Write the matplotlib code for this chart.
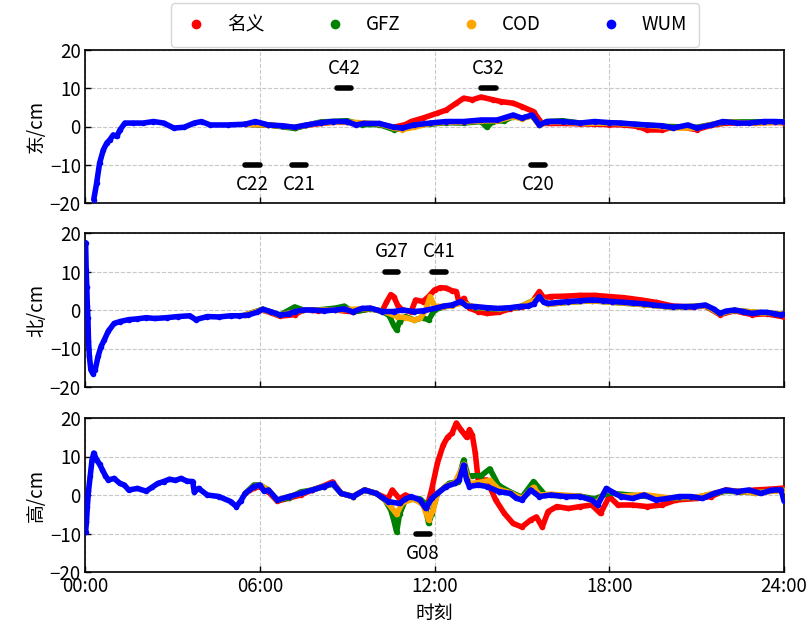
import matplotlib
matplotlib.use("Agg")
import matplotlib.pyplot as plt
from matplotlib.lines import Line2D

plt.rcParams['font.family'] = ['Noto Sans CJK SC', 'DejaVu Sans']
plt.rcParams['axes.unicode_minus'] = True

series_names = ['名义', 'GFZ', 'COD', 'WUM']
series_colors = ['#ff0000', '#008000', '#ffa500', '#0000ff']
xtick_labels = ['00:00', '06:00', '12:00', '18:00', '24:00']
panel_labels = ['东/cm', '北/cm', '高/cm']

# ---------------- East ----------------
e_wum_t = [0.3, 0.4, 0.5, 0.63, 0.75, 0.85, 0.97, 1.09, 1.2, 1.37, 1.66, 2.0, 2.35, 2.7, 3.05, 3.4, 3.75, 4.0, 4.3, 4.9,
           5.5, 5.85, 6.3, 6.76, 7.2, 7.6, 8.1, 8.5, 9.0, 9.3, 9.57, 10.1, 10.6, 10.9, 11.3, 11.85, 12.4, 13.0, 13.6, 14.15,
           14.7, 15.0, 15.35, 15.6, 15.86, 16.4, 17.0, 17.5, 18.0, 18.4, 18.9, 19.3, 19.8, 20.2, 20.7, 21.0, 21.5, 21.9, 22.4,
           22.8, 23.3, 23.7, 24.0]
e_wum_v = [-19.1, -14.8, -9.6, -6.1, -4.3, -3.5, -2.2, -2.6, -0.9, 0.9, 0.9, 0.9, 1.3, 0.9, -0.4, -0.2, 0.9, 1.3, 0.4, 0.4,
           0.6, 1.3, 0.4, 0.2, -0.2, 0.4, 1.0, 1.3, 1.3, 0.4, 0.8, 0.8, -0.2, -0.4, 0.4, 0.9, 1.3, 1.3, 1.7, 1.7,
           3.0, 2.2, 3.0, 0.4, 1.3, 1.3, 0.9, 1.3, 1.0, 0.9, 0.6, 0.4, 0.2, -0.4, 0.4, -0.4, 0.4, 1.3, 0.9,
           0.9, 1.3, 1.3, 1.2]
e_nom_t = [5.5, 6.3, 7.2, 7.6, 8.1, 8.5, 9.0, 9.5, 10.1, 10.6, 11.0, 11.2, 11.6, 12.1, 12.4, 12.75, 13.0, 13.3, 13.6, 14.0,
           14.3, 14.7, 15.0, 15.4, 15.6, 15.7, 16.0, 16.5, 17.0, 17.5, 18.0, 18.5, 19.0, 19.3, 19.8, 20.2, 20.5, 21.0, 21.5,
           22.0, 22.5, 23.0, 23.5, 24.0]
e_nom_v = [0.6, 0.4, -0.3, 0.3, 0.8, 1.1, 1.1, 0.6, 0.6, -0.2, 0.5, 1.3, 2.2, 3.5, 4.3, 6.1, 7.4, 7.0, 7.7, 7.0,
           6.5, 6.1, 5.2, 3.9, 1.7, 0.8, 0.8, 0.8, 0.7, 0.6, 0.5, 0.4, 0.0, -0.9, -0.9, -0.2, -0.2, -0.8, 0.3,
           0.9, 0.9, 0.9, 1.1, 1.0]
e_gfz_t = [5.5, 6.3, 7.2, 7.6, 8.1, 9.0, 9.5, 10.1, 10.6, 10.9, 11.3, 11.85, 12.4, 13.0, 13.6, 13.8, 14.0, 14.4, 14.7, 15.0,
           15.35, 15.6, 15.86, 16.4, 17.0, 18.0, 19.0, 20.0, 21.0, 22.0, 23.0, 24.0]
e_gfz_v = [0.6, 0.4, -0.5, 0.3, 1.2, 1.5, 0.5, 0.5, -0.8, -0.6, 0.4, 0.6, 1.0, 0.9, 1.3, -0.2, 1.3, 1.5, 2.6, 2.2,
           2.8, 0.4, 1.3, 1.5, 0.9, 1.0, 0.5, 0.0, -0.2, 1.2, 1.2, 1.2]
e_cod_t = [5.5, 6.3, 7.2, 8.1, 9.0, 10.1, 10.6, 10.9, 11.3, 11.85, 12.4, 13.0, 13.6, 14.15, 14.7, 15.0, 15.35, 15.6, 15.86,
           16.4, 17.0, 18.0, 19.3, 20.2, 21.0, 21.9, 22.8, 24.0]
e_cod_v = [0.6, 0.4, -0.2, 1.0, 1.2, 0.7, -0.4, -0.8, -0.2, 0.8, 1.1, 1.1, 1.5, 1.5, 2.6, 2.0, 2.8, 0.4, 1.2,
           1.2, 0.8, 0.9, 0.3, -0.4, -0.4, 1.2, 0.9, 1.1]

# ---------------- North ----------------
n_wum_t = [0.02, 0.04, 0.06, 0.08, 0.1, 0.12, 0.15, 0.2, 0.27, 0.35, 0.45, 0.55, 0.66, 0.8, 1.0, 1.2, 1.5, 1.8, 2.1, 2.4,
           2.8, 3.2, 3.6, 3.8, 4.2, 4.6, 5.0, 5.3, 5.6, 5.9, 6.1, 6.4, 6.7, 7.0, 7.2, 7.5, 7.8, 8.2, 8.6, 8.9,
           9.2, 9.5, 9.8, 10.2, 10.6, 10.9, 11.3, 11.6, 12.0, 12.3, 12.6, 12.9, 13.1, 13.4, 13.8, 14.2, 14.6, 14.9, 15.2, 15.4,
           15.6, 15.75, 15.9, 16.3, 16.6, 17.0, 17.4, 17.8, 18.1, 18.5, 18.8, 19.2, 19.5, 19.9, 20.2, 20.6, 20.9, 21.3, 21.6, 21.8,
           22.0, 22.3, 22.6, 22.9, 23.2, 23.4, 23.7, 23.9, 24.0]
n_wum_v = [17.5, 10.5, 6.0, 1.0, -2.0, -8.0, -12.0, -15.5, -16.5, -15.5, -12.0, -9.5, -7.8, -5.5, -3.5, -3.0, -2.5, -2.3, -2.0, -2.2,
           -2.0, -1.7, -1.5, -2.5, -1.7, -1.8, -1.5, -1.5, -1.3, -0.6, 0.2, -0.5, -1.3, -1.0, -0.4, 0.0, 0.0, -0.2, 0.0, 0.3,
           -0.5, 0.4, 0.5, -0.4, -0.4, 0.0, -0.4, -0.2, 0.4, 1.0, 1.3, 2.2, 1.0, 0.9, 0.6, 0.4, 0.6, 0.9, 1.0, 1.5,
           3.5, 2.0, 1.7, 2.0, 2.2, 2.4, 2.6, 2.4, 2.2, 2.0, 1.8, 1.6, 1.3, 1.0, 0.9, 0.9, 0.9, 1.3, 0.2, -0.9,
           -0.3, 0.0, -0.4, -0.9, -0.6, -0.6, -1.0, -1.3, -1.0]
n_nom_t = [5.5, 6.1, 6.7, 7.2, 7.5, 8.0, 8.6, 9.2, 9.8, 10.2, 10.35, 10.5, 10.6, 10.75, 10.9, 11.2, 11.35, 11.6, 11.8, 12.0,
           12.2, 12.4, 12.6, 12.75, 12.85, 13.0, 13.2, 13.5, 13.8, 14.2, 14.6, 15.0, 15.3, 15.6, 15.75, 16.0, 16.5, 17.0, 17.5,
           18.0, 18.5, 19.1, 19.6, 20.2, 20.8, 21.3, 21.8, 22.3, 22.9, 23.4, 24.0]
n_nom_v = [-1.3, 0.0, -1.6, -1.2, 0.0, -0.2, 0.0, -0.5, 0.3, -0.3, 2.0, 4.0, 3.5, 1.0, 0.0, -0.4, 2.6, 2.2, 3.5, 5.2,
           5.8, 5.7, 5.0, 4.8, 1.7, 3.0, 0.5, -0.4, -0.9, -0.6, 0.3, 0.8, 1.5, 4.8, 3.2, 3.5, 3.6, 3.8, 3.8,
           3.5, 3.2, 2.6, 2.0, 1.0, 0.8, 1.0, -1.2, -0.2, -1.2, -1.0, -1.8]
n_gfz_t = [5.5, 6.1, 6.7, 7.2, 7.5, 8.0, 8.6, 8.9, 9.2, 9.8, 10.2, 10.45, 10.6, 10.7, 10.8, 11.0, 11.3, 11.6, 11.8, 12.0,
           12.3, 12.6, 12.9, 13.4, 13.8, 14.2, 14.9, 15.6, 15.9, 16.6, 17.4, 18.1, 19.2, 20.2, 21.3, 21.8, 22.3, 23.2, 24.0]
n_gfz_v = [-1.3, 0.2, -1.3, 0.8, 0.0, 0.0, 0.5, 1.0, -0.5, 0.3, -0.3, -1.5, -4.0, -5.2, -3.0, -1.7, -2.6, -2.0, -2.6, 0.0,
           0.8, 1.2, 2.0, 0.6, 0.4, 0.2, 0.7, 3.2, 1.5, 2.0, 2.4, 2.0, 1.4, 0.7, 1.1, -0.9, -0.1, -0.7, -1.1]
n_cod_t = [5.5, 6.1, 6.7, 7.5, 8.6, 9.8, 10.2, 10.5, 10.7, 11.0, 11.3, 11.5, 11.7, 11.85, 12.0, 12.3, 12.6, 12.9, 13.4, 14.2,
           14.9, 15.6, 15.9, 16.6, 17.4, 18.1, 19.2, 20.2, 21.3, 21.8, 22.3, 23.2, 24.0]
n_cod_v = [-1.3, 0.1, -1.3, 0.0, 0.0, 0.4, -0.4, -1.0, -1.7, -2.0, -2.6, -2.2, 0.0, 3.5, 1.0, 0.9, 1.1, 1.9, 0.7, 0.3,
           0.7, 3.2, 1.5, 2.0, 2.4, 2.0, 1.4, 0.7, 1.1, -0.9, -0.1, -0.7, -1.1]

# ---------------- Up ----------------
u_wum_t = [0.02, 0.05, 0.08, 0.12, 0.18, 0.24, 0.3, 0.4, 0.5, 0.6, 0.7, 0.8, 1.0, 1.2, 1.35, 1.5, 1.8, 2.1, 2.3, 2.5,
           2.7, 2.9, 3.1, 3.3, 3.5, 3.7, 3.75, 3.9, 4.2, 4.6, 5.0, 5.2, 5.35, 5.5, 5.8, 6.0, 6.15, 6.3, 6.6, 7.0,
           7.4, 7.8, 8.2, 8.5, 8.8, 9.2, 9.6, 10.0, 10.4, 10.8, 11.0, 11.2, 11.5, 11.7, 11.9, 12.1, 12.4, 12.7, 12.85, 13.0,
           13.1, 13.2, 13.5, 13.8, 14.2, 14.6, 14.8, 15.0, 15.3, 15.6, 16.0, 16.5, 17.0, 17.4, 17.6, 17.9, 18.1, 18.4, 18.8, 19.2,
           19.6, 20.0, 20.4, 20.8, 21.2, 21.6, 22.0, 22.4, 22.8, 23.2, 23.6, 23.9, 24.0]
u_wum_v = [-9.5, -7.0, -3.0, 1.0, 5.0, 9.0, 10.9, 9.1, 8.0, 6.5, 5.0, 3.9, 4.3, 3.0, 2.6, 1.3, 1.7, 1.0, 2.0, 3.0,
           3.5, 4.1, 3.8, 4.3, 3.6, 3.5, 0.8, 1.7, 0.0, -0.4, -1.7, -3.0, -1.5, 0.4, 2.2, 2.6, 1.0, 1.3, -1.3, -0.4,
           0.4, 1.3, 2.2, 3.0, 0.4, -0.4, 1.3, 0.4, -1.7, -2.2, -1.0, -0.4, -1.3, -3.5, -0.9, 0.4, 2.2, 3.0, 4.0, 7.8,
           4.0, 2.2, 2.6, 2.2, 0.9, 0.4, -0.8, -1.3, 1.3, -0.4, 0.0, -0.4, -0.4, -1.3, -2.6, 1.7, 0.8, -0.4, -0.9, 0.0,
           -1.3, -0.9, -0.4, -0.4, -0.9, 0.4, 1.3, 0.9, 1.3, 0.4, 1.3, 1.3, -1.5]
u_nom_t = [5.5, 5.8, 6.0, 6.3, 6.6, 7.0, 7.4, 7.8, 8.2, 8.5, 8.8, 9.2, 9.6, 10.0, 10.4, 10.55, 10.8, 11.0, 11.3, 11.5,
           11.75, 11.9, 12.1, 12.3, 12.45, 12.6, 12.75, 12.9, 13.0, 13.1, 13.2, 13.3, 13.4, 13.5, 13.8, 14.1, 14.4, 14.7, 15.0,
           15.3, 15.5, 15.7, 15.9, 16.2, 16.6, 17.0, 17.4, 17.7, 18.0, 18.3, 18.8, 19.3, 19.8, 20.3, 21.0, 21.5, 22.0, 22.5,
           23.0, 23.5, 24.0]
u_nom_v = [0.4, 1.8, 2.2, 0.8, -1.6, -0.8, 0.0, 1.3, 2.4, 3.4, 0.4, -0.4, 1.3, 0.4, -1.0, 1.3, -1.0, 0.0, -1.0, -1.5,
           -3.0, 1.3, 8.3, 13.0, 15.0, 16.0, 18.7, 17.0, 16.0, 15.0, 17.0, 15.5, 10.9, 3.9, 3.9, -1.3, -4.8, -7.4, -8.3,
           -6.5, -5.7, -8.3, -4.3, -3.0, -3.5, -3.0, -2.6, -4.8, -0.4, -2.6, -2.6, -3.0, -2.6, -1.3, -0.9, -0.4, 1.3, 0.9,
           1.3, 1.5, 1.8]
u_gfz_t = [5.5, 5.8, 6.0, 6.3, 6.6, 7.0, 7.4, 7.8, 8.2, 8.5, 8.8, 9.2, 9.6, 10.0, 10.3, 10.5, 10.6, 10.7, 10.8, 11.0,
           11.3, 11.5, 11.65, 11.8, 11.9, 12.1, 12.5, 12.8, 13.0, 13.15, 13.3, 13.6, 13.9, 14.2, 14.6, 15.0, 15.4, 15.8, 16.3,
           17.0, 17.5, 18.0, 19.0, 20.0, 21.0, 22.0, 23.0, 24.0]
u_gfz_v = [0.4, 2.6, 2.6, 1.3, -1.3, -0.8, 0.8, 1.3, 2.2, 2.8, 0.4, -0.4, 1.3, 0.4, -1.3, -3.9, -6.5, -9.6, -5.0, -1.3,
           -1.0, -1.0, -2.0, -7.4, -5.0, 0.4, 3.0, 3.5, 9.1, 5.0, 5.0, 5.0, 6.8, 2.5, 0.8, -0.6, 3.5, 0.0, -0.2,
           -0.3, -1.0, 0.5, -0.2, -0.8, -0.6, 1.0, 0.6, 1.3]
u_cod_t = [5.5, 5.8, 6.0, 6.3, 6.6, 7.0, 7.4, 7.8, 8.2, 8.5, 8.8, 9.2, 9.6, 10.0, 10.3, 10.5, 10.7, 10.9, 11.3, 11.6,
           11.8, 11.95, 12.1, 12.4, 12.7, 13.0, 13.2, 13.5, 13.9, 14.2, 14.6, 15.0, 15.4, 15.6, 16.0, 17.0, 17.6, 17.9, 18.4,
           19.2, 20.0, 21.0, 22.0, 23.0, 24.0]
u_cod_v = [0.4, 2.2, 2.6, 1.3, -1.3, -0.4, 0.4, 1.3, 2.2, 3.0, 0.4, -0.4, 1.3, 0.4, -1.3, -3.0, -5.0, -2.0, -1.0, -2.5,
           -6.5, -4.0, 0.4, 2.4, 3.2, 8.0, 3.0, 3.2, 3.8, 1.5, 0.6, -0.9, 2.0, 0.0, 0.2, -0.3, -2.0, 1.5, -0.3,
           0.1, -0.7, -0.6, 1.2, 0.6, 1.2]

panels = [
    [(e_nom_t, e_nom_v), (e_gfz_t, e_gfz_v), (e_cod_t, e_cod_v), (e_wum_t, e_wum_v)],
    [(n_nom_t, n_nom_v), (n_gfz_t, n_gfz_v), (n_cod_t, n_cod_v), (n_wum_t, n_wum_v)],
    [(u_nom_t, u_nom_v), (u_gfz_t, u_gfz_v), (u_cod_t, u_cod_v), (u_wum_t, u_wum_v)],
]

# satellite annotations
sat_names = ['C42', 'C32', 'C22', 'C21', 'C20', 'G27', 'C41', 'G08']
sat_panel = [0, 0, 0, 0, 0, 1, 1, 2]
sat_start = [8.65, 13.6, 5.5, 7.1, 15.3, 10.3, 11.9, 11.35]
sat_end = [9.15, 14.1, 6.0, 7.6, 15.8, 10.75, 12.4, 11.85]
sat_level = [10, 10, -10, -10, -10, 10, 10, -10]

fig = plt.figure(figsize=(8.11, 6.30), dpi=100)
L, W = 85 / 811, (784 - 85) / 811
boxes = [(50, 203), (233, 387), (418, 572)]
axes = []
for (top, bot) in boxes:
    ax = fig.add_axes([L, 1 - bot / 630, W, (bot - top) / 630])
    axes.append(ax)

for i, ax in enumerate(axes):
    for (t, v), c in zip(panels[i], series_colors):
        ax.plot(t, v, color=c, lw=4.0, marker='o', ms=4.0, mew=0, solid_joinstyle='round',
                solid_capstyle='round', zorder=3)
    ax.set_xlim(0, 24)
    ax.set_ylim(-20, 20)
    ax.set_xticks([0, 6, 12, 18, 24])
    ax.set_yticks([-20, -10, 0, 10, 20])
    ax.grid(True, ls='--', color='#c8c8c8', lw=0.8)
    ax.tick_params(direction='in', labelsize=13.5, length=4, width=1, pad=3)
    for s in ax.spines.values():
        s.set_linewidth(1.2)
    ax.set_ylabel(panel_labels[i], fontsize=13.5, labelpad=2)
    if i < 2:
        ax.set_xticklabels([])
    else:
        ax.set_xticklabels(xtick_labels)
        ax.set_xlabel('时刻', fontsize=13.5, labelpad=4)

for name, p, s, e, lev in zip(sat_names, sat_panel, sat_start, sat_end, sat_level):
    ax = axes[p]
    ax.plot([s, e], [lev, lev], color='black', lw=4, solid_capstyle='round', zorder=5)
    ty = lev + 5.2 if lev > 0 else lev - 5.2
    ax.text((s + e) / 2, ty, name, ha='center', va='center', fontsize=13.5, zorder=6)

handles = [Line2D([], [], ls='none', marker='o', ms=7, mew=0, color=c) for c in series_colors]
fig.legend(handles, series_names, loc='upper center', bbox_to_anchor=(0.536, 0.995), ncol=4,
           fontsize=13.5, handlelength=1.5, handletextpad=0.9, columnspacing=3.0, borderpad=0.6,
           borderaxespad=0.0, frameon=True, edgecolor='#cccccc', fancybox=True)

fig.savefig('out.png', dpi=100)
